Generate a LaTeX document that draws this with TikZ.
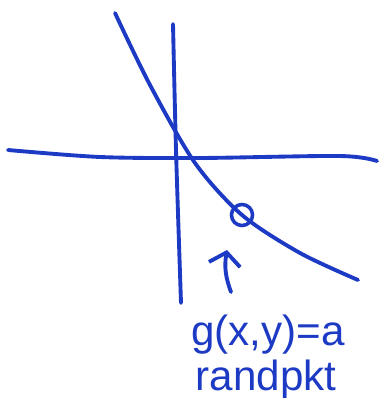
\documentclass[tikz,border=0pt]{standalone}
\usepackage{fontspec}
\setmainfont{Liberation Sans}
\usetikzlibrary{arrows.meta}
\definecolor{handblue}{RGB}{28,58,196}
\begin{document}
\begin{tikzpicture}[
				x=0.02cm, y=-0.02cm,
				pen/.style={draw=handblue, line width=2.2pt, line cap=round, line join=round},
				spot/.style={circle, draw=handblue, line width=2pt, minimum size=12pt, inner sep=0pt},
				hand/.style={text=handblue, font=\fontsize{24}{28}\selectfont, anchor=base, inner sep=0pt}
				]
				\useasboundingbox (0,0) rectangle (380,398);
				% axes
				\draw[pen] plot[smooth] coordinates {(8,150) (100,157) (200,158) (340,156) (377,161)};
				\draw[pen] plot[smooth] coordinates {(173,24) (176,150) (181,303)};
				% level curve
				\draw[pen] plot[smooth] coordinates {(115,13) (150,85) (195,163) (242,215) (300,253) (358,280)};
				\node[spot] (randp) at (242,215) {};
				% arrow and label
				\coordinate (arrtail) at (231,292);
				\coordinate (arrtip) at (227,250);
				\draw[pen, -{Straight Barb[length=7pt, width=18pt, line width=2.2pt]}] (arrtail) to[bend left=15] (arrtip);
				\node[hand] (gxy) at (268,345) {g(x,y)=a};
				\node[hand] (rpkt) at (266,390) {randpkt};
			\end{tikzpicture}
\end{document}
